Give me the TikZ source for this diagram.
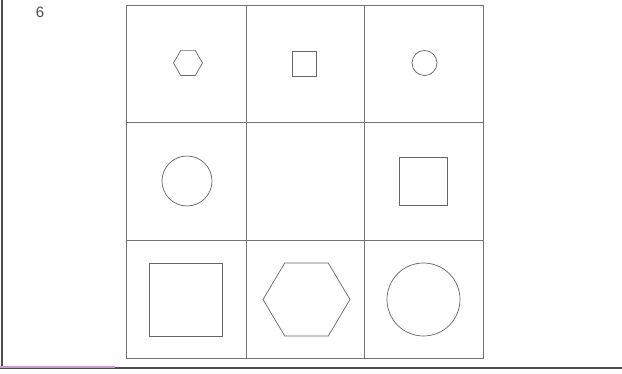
\documentclass[tikz,border=0pt]{standalone}
\usepackage{fontspec}
\setmainfont{Liberation Sans}
\begin{document}
\begin{tikzpicture}[x=1pt,y=-1pt,
  gridline/.style={draw=black!55,line width=0.9pt},
  shapeline/.style={draw=black!60,line width=0.7pt},
  frameline/.style={draw=black!70,line width=1.6pt}]
\useasboundingbox[fill=white] (0,0) rectangle (622,374);
% outer frame lines
\draw[frameline] (2,0) -- (2,368);
\draw[frameline] (0,368) -- (622,368);
\draw[draw=violet!40,line width=2pt] (0,367) -- (115,367);
% label
\node[text=black!70,font=\fontsize{15}{15}\selectfont] (lbl) at (40,12) {6};
% grid
\draw[gridline] (126,5) rectangle (483,358);
\draw[gridline] (246,5) -- (246,358);
\draw[gridline] (364,5) -- (364,358);
\draw[gridline] (126,122) -- (483,122);
\draw[gridline] (126,240) -- (483,240);
% row 1
\draw[shapeline] (188,63) ++(14.5,0) -- ++(-7.25,-12.6) -- ++(-14.5,0) -- ++(-7.25,12.6) -- ++(7.25,12.6) -- ++(14.5,0) -- cycle;
\draw[shapeline] (292.5,51) rectangle (316.5,76);
\draw[shapeline] (424.5,63) circle (12.5);
% row 2
\draw[shapeline] (187,181) circle (25);
\draw[shapeline] (399,157) rectangle (447,205);
% row 3
\draw[shapeline] (149,263) rectangle (222,336);
\draw[shapeline] (306.5,299.5) ++(43.5,0) -- ++(-21.75,-36.5) -- ++(-43.5,0) -- ++(-21.75,36.5) -- ++(21.75,36.5) -- ++(43.5,0) -- cycle;
\draw[shapeline] (423.5,299.5) circle (36.5);
\end{tikzpicture}
\end{document}
